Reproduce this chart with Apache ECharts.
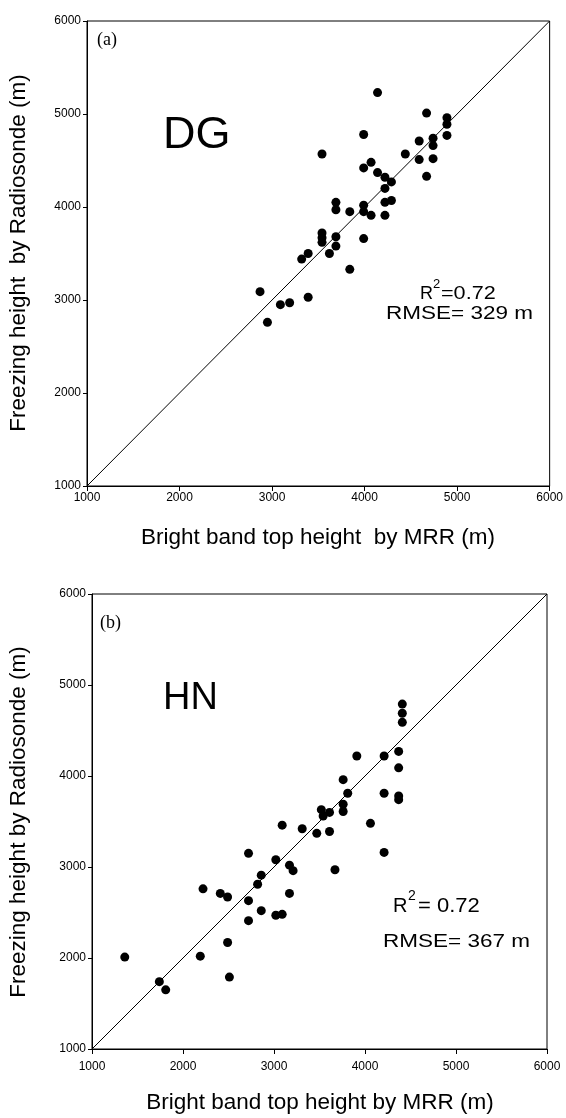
<!DOCTYPE html>
<html>
<head>
<meta charset="utf-8">
<script src="https://cdn.jsdelivr.net/npm/echarts@6/dist/echarts.min.js"></script>
<style>
html,body{margin:0;padding:0;background:#fff;}
#chart{width:566px;height:1118px;}
</style>
</head>
<body>
<div id="chart"></div>
<script>
// ---- Data: panel (a) DG ----
var dgMRR = [4140,4670,4890,4890,4890,4740,4740,4740,4590,4590,4670,4440,3990,3540,4070,3990,4140,4220,4290,4220,4290,4220,4220,3990,3990,4070,3840,3690,3690,3990,3690,3690,3540,3540,3540,3620,3390,3320,3840,2870,3090,3190,3390,2950];
var dgSonde = [5230,5010,4960,4890,4770,4740,4660,4520,4710,4510,4330,4570,4780,4570,4480,4420,4370,4320,4270,4200,4070,4050,3910,4020,3950,3910,3950,4050,3970,3660,3680,3580,3720,3670,3620,3500,3500,3440,3330,3090,2950,2970,3030,2760];
// ---- Data: panel (b) HN ----
var hnMRR = [4410,4410,4410,4370,4210,3910,4370,3760,3810,4210,4370,4370,3760,3760,3520,3610,3540,4060,3090,3310,3470,3610,4210,2720,3020,3170,3210,2860,2820,2220,2410,2490,2720,3170,2860,3020,3090,2720,2490,1360,2190,2510,1740,1810,3670];
var hnSonde = [4790,4690,4590,4270,4220,4220,4090,3960,3810,3810,3780,3740,3690,3610,3630,3600,3560,3480,3460,3420,3370,3390,3160,3150,3080,3020,2960,2910,2810,2760,2710,2670,2630,2710,2520,2470,2480,2410,2170,2010,2020,1790,1740,1650,2970];
// ---- Axis ticks / 1:1 line ----
var axisMin = 1000, axisMax = 6000, axisStep = 1000;
var oneToOne = [1000, 6000];

function pairs(xs, ys){ return xs.map(function(v,i){ return [v, ys[i]]; }); }

var FONT = '"Liberation Sans", Arial, sans-serif';
var chart = echarts.init(document.getElementById('chart'), null, {renderer:'canvas'});

function plainLabel(v){ return String(v); }
function xAx(gi, margin){
  return {gridIndex:gi, type:'value', min:axisMin, max:axisMax, interval:axisStep,
    axisLine:{show:true, onZero:false, lineStyle:{color:'#000', width:1}},
    axisTick:{show:true, inside:false, length:5, lineStyle:{color:'#000'}},
    axisLabel:{show:true, color:'#000', fontSize:12, fontFamily:FONT, margin:margin, formatter:plainLabel},
    splitLine:{show:false}};
}
function yAx(gi){
  return {gridIndex:gi, type:'value', min:axisMin, max:axisMax, interval:axisStep,
    axisLine:{show:true, onZero:false, lineStyle:{color:'#000', width:1}},
    axisTick:{show:true, inside:false, length:4, lineStyle:{color:'#000'}},
    axisLabel:{show:true, color:'#000', fontSize:12, fontFamily:FONT, margin:6, formatter:plainLabel},
    splitLine:{show:false}};
}
function txt(x, y, s, size, opts){
  opts = opts || {};
  return {type:'text', x:x, y:y, rotation:opts.rot||0, scaleX:opts.sx||1, scaleY:1, z:10,
    style:{text:s, fill:'#000', font:(opts.weight||'normal')+' '+size+'px '+(opts.family||FONT),
      textAlign:opts.align||'left', textVerticalAlign:'middle'}};
}

var option = {
  backgroundColor:'#fff',
  animation:false,
  grid:[
    {left:87, top:21, width:463, height:465, show:true, borderColor:'#000', borderWidth:1, backgroundColor:'transparent'},
    {left:92, top:594, width:455, height:455, show:true, borderColor:'#000', borderWidth:1, backgroundColor:'transparent'}
  ],
  xAxis:[xAx(0, 6), xAx(1, 12)],
  yAxis:[yAx(0), yAx(1)],
  series:[
    {type:'line', xAxisIndex:0, yAxisIndex:0, data:[[oneToOne[0],oneToOne[0]],[oneToOne[1],oneToOne[1]]],
      showSymbol:false, symbol:'none', lineStyle:{color:'#000', width:1}, silent:true},
    {type:'scatter', xAxisIndex:0, yAxisIndex:0, data:pairs(dgMRR, dgSonde), symbol:'circle', symbolSize:9,
      itemStyle:{color:'#000', opacity:1}},
    {type:'line', xAxisIndex:1, yAxisIndex:1, data:[[oneToOne[0],oneToOne[0]],[oneToOne[1],oneToOne[1]]],
      showSymbol:false, symbol:'none', lineStyle:{color:'#000', width:1}, silent:true},
    {type:'scatter', xAxisIndex:1, yAxisIndex:1, data:pairs(hnMRR, hnSonde), symbol:'circle', symbolSize:9,
      itemStyle:{color:'#000', opacity:1}}
  ],
  graphic:[
    // panel (a)
    txt(97, 40, '(a)', 18, {family:'"Liberation Serif", "Times New Roman", serif'}),
    txt(163, 136, 'DG', 45),
    txt(420, 294, 'R', 18),
    txt(433, 284, '2', 13),
    txt(441, 294, '=0.72', 18, {sx:1.2}),
    txt(386, 314, 'RMSE= 329 m', 18, {sx:1.25}),
    txt(318, 538, 'Bright band top height  by MRR (m)', 22.5, {align:'center'}),
    txt(19, 253, 'Freezing height  by Radiosonde (m)', 22.5, {align:'center', rot:Math.PI/2}),
    // panel (b)
    txt(100, 623, '(b)', 18, {family:'"Liberation Serif", "Times New Roman", serif'}),
    txt(163, 699, 'HN', 38),
    txt(393, 906, 'R', 20),
    txt(408, 896, '2', 14),
    txt(418, 906, '= 0.72', 20, {sx:1.1}),
    txt(383, 942, 'RMSE= 367 m', 18, {sx:1.25}),
    txt(320, 1103, 'Bright band top height by MRR (m)', 22.5, {align:'center'}),
    txt(19, 822, 'Freezing height by Radiosonde (m)', 22.5, {align:'center', rot:Math.PI/2})
  ]
};
chart.setOption(option);
</script>
</body>
</html>
